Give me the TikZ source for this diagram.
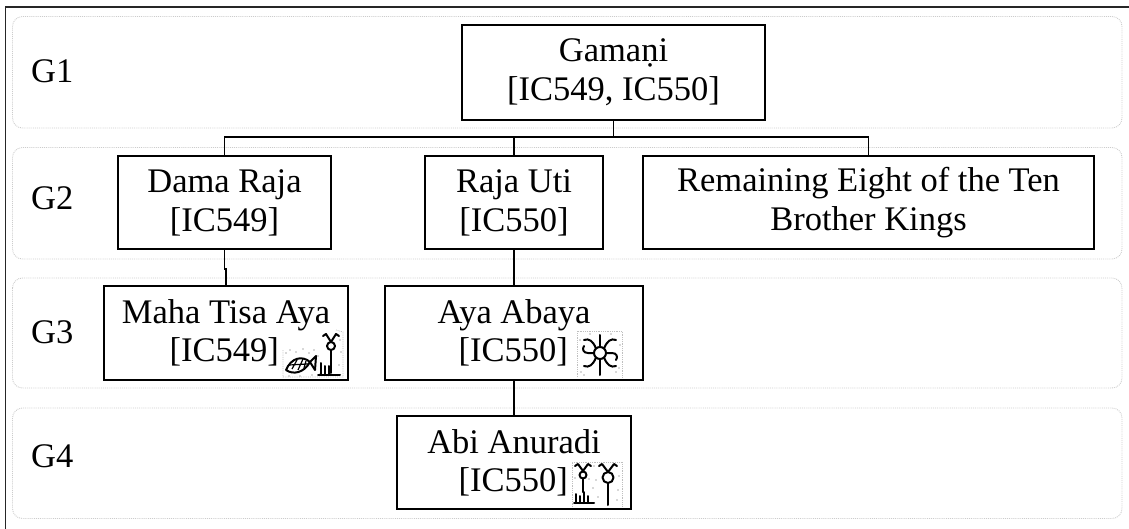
\documentclass[tikz,border=0pt]{standalone}
\usepackage{fontspec}
\setmainfont{Liberation Serif}
\newcommand\mainfs{\fontsize{34.5}{39}\selectfont}
\begin{document}
\begin{tikzpicture}[x=1pt,y=-1pt,
  band/.style={draw=gray!40, densely dotted, line width=0.9pt, rounded corners=10pt},
  person/.style={draw=black, line width=1.6pt, fill=white, align=center, inner sep=0pt, font=\mainfs},
  conn/.style={line width=1.5pt},
  lbl/.style={font=\mainfs, inner sep=0pt},
  glyphbg/.style={draw=gray!50, densely dotted, line width=0.8pt},
  speck/.style={fill=gray!60},
  ink/.style={line width=2pt, line cap=round, line join=round}
]
\useasboundingbox (0,0) rectangle (1129,529);
% outer frame (top and left)
\draw[line width=1.5pt, black!85] (1129,7) -- (5.5,7) -- (5.5,529);

% generation bands
\draw[band] (12.5,16.5) rectangle (1122,128);
\draw[band] (12.5,147.5) rectangle (1122,259);
\draw[band] (12.5,278) rectangle (1122,388);
\draw[band] (12.5,408) rectangle (1122,518.5);

\node[lbl, anchor=base west] (g1) at (31,83) {G1};
\node[lbl, anchor=base west] (g2) at (31,210) {G2};
\node[lbl, anchor=base west] (g3) at (31,343) {G3};
\node[lbl, anchor=base west] (g4) at (31,467) {G4};

% persons
\node[person, minimum width=303pt, minimum height=95pt] (gam) at (613.5,72.5) {Gamaṇi\\{}[IC549, IC550]};
\node[person, minimum width=213pt, minimum height=93pt] (dama) at (224.5,202.5) {Dama Raja\\{}[IC549]};
\node[person, minimum width=178pt, minimum height=93pt] (raja) at (514,202.5) {Raja Uti\\{}[IC550]};
\node[person, minimum width=451pt, minimum height=93pt] (rem) at (868.5,202.5) {Remaining Eight of the Ten\\Brother Kings};
\node[person, minimum width=244pt, minimum height=94pt] (maha) at (226,333) {};
\node[person, minimum width=258pt, minimum height=94pt] (aya) at (514,333) {};
\node[person, minimum width=234pt, minimum height=93pt] (abi) at (514,462.5) {};

\node[lbl, anchor=base] (mahaA) at (226,323) {Maha Tisa Aya};
\node[lbl, anchor=base east] (mahaB) at (279,361) {[IC549]};
\node[lbl, anchor=base] (ayaA) at (514,323) {Aya Abaya};
\node[lbl, anchor=base east] (ayaB) at (568,361) {[IC550]};
\node[lbl, anchor=base] (abiA) at (514,453) {Abi Anuradi};
\node[lbl, anchor=base east] (abiB) at (568,491) {[IC550]};

% connectors
\coordinate (jn) at (613.5,137);
\draw[conn] (gam.south) -- (jn);
\draw[conn] (dama.north) -- (dama.north |- jn) -- (rem.north |- jn) -- (rem.north);
\draw[conn] (raja.north) -- (raja.north |- jn);
\draw[conn] (dama.south) -- ++(0,19) -| (maha.north);
\draw[conn] (raja.south) -- (aya.north);
\draw[conn] (aya.south) -- (abi.north);

% glyph: Maha Tisa Aya
\draw[glyphbg] (283,350) -- (283,377) -- (343,377) -- (343,332) -- (336,330);
\foreach \p in {(286,353),(290,350),(296,352),(303,349),(309,353),(314,350),(318,356),(289,376),(300,376),(312,375),(320,374),(340,340),(341,352),(339,365),(316,361)}
  \fill[speck] \p circle (0.9);
\draw[ink] (286,370) .. controls (291,358) and (302,355) .. (310,362) .. controls (304,373) and (293,375) .. (286,370);
\draw[ink] (310,362) -- (316,356) -- (315,370) -- cycle;
\draw[line width=1.2pt] (292,369) -- (297,360) (298,370) -- (303,359) (304,368) -- (306,361) (289,365) -- (308,364);
\draw[ink] (331,350) -- (331,373);
\draw[ink] (331,346) circle (4);
\draw[ink] (331,342) -- (326,334) -- (323,336) (331,342) -- (336,334) -- (339,336);
\draw[ink] (318,375) -- (340,375) (321,363) -- (321,375) (325,366) -- (325,375) (329,366) -- (329,375);

% glyph: Aya Abaya
\draw[glyphbg] (577,377) -- (577,331) -- (622,331) -- (622,377);
\foreach \p in {(581,372),(584,375),(616,372),(619,368),(590,334),(611,334),(580,340),(620,345)}
  \fill[speck] \p circle (0.9);
\draw[ink] (600,353) circle (6);
\draw[ink] (596,348.5) .. controls (593,341) and (589,338) .. (584,340);
\draw[ink] (604,348.5) .. controls (607,341) and (611,338) .. (616,340);
\draw[ink] (596,357.5) .. controls (593,365) and (589,368) .. (584,366);
\draw[ink] (604,357.5) .. controls (607,365) and (611,368) .. (616,366);
\draw[ink] (594,353) -- (588,353) .. controls (583,353) and (582,349) .. (584,346);
\draw[ink] (606,353) -- (612,353) .. controls (617,353) and (618,357) .. (616,360);
\draw[ink] (600,347) -- (600,335) (600,359) -- (600,375);

% glyph: Abi Anuradi
\draw[glyphbg] (572,507) -- (572,462) -- (622,462) -- (622,507);
\foreach \p in {(594,466),(596,480),(593,488),(598,497),(619,476),(618,490),(617,500),(575,478),(589,479)}
  \fill[speck] \p circle (0.9);
\draw[ink] (583,471) -- (578,464) -- (575,466) (583,471) -- (588,464) -- (591,466);
\draw[ink] (583,475) circle (3.5);
\draw[ink] (583,478.5) -- (583,492);
\draw[ink] (574,503) -- (594,503) (576,494) -- (576,503) (580,496) -- (580,503) (584,492) -- (584,503) (588,496) -- (588,503);
\draw[ink] (608,472) -- (602,464) -- (599,466) (608,472) -- (614,464) -- (617,466);
\draw[ink] (608,477.5) circle (5.5);
\draw[ink] (608,483) -- (608,505);
\end{tikzpicture}
\end{document}
